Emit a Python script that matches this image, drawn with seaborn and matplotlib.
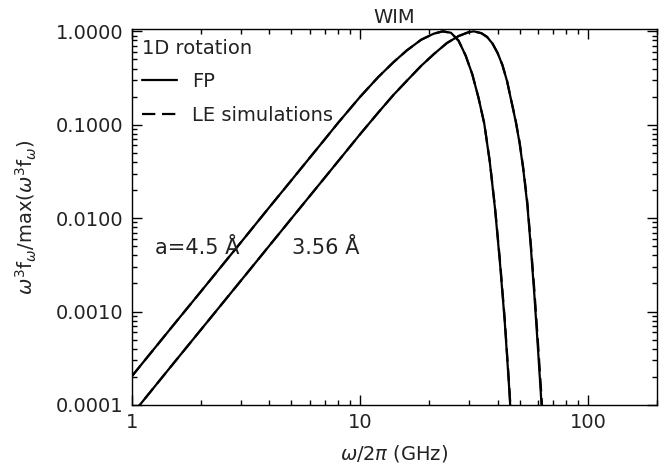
import numpy as np
import pandas as pd
import matplotlib
matplotlib.use("Agg")
import matplotlib.pyplot as plt
import seaborn as sns
from matplotlib.ticker import FixedLocator, FuncFormatter, LogLocator, NullFormatter

# frequency (GHz) and normalized emissivity, a = 4.5 A
freq_45 = [1.0, 1.5, 2.0, 3.0, 4.0, 5.0, 7.0, 8.0, 10.0, 12.0, 14.0, 16.0, 18.5,
           21.0, 23.0, 25.0, 27.0, 29.0, 31.0, 33.0, 35.0, 37.0, 39.0, 41.0,
           43.0, 45.0, 46.2]
fp_45 = [2.04e-4, 6.9e-4, 1.63e-3, 5.5e-3, 0.0131, 0.0255, 0.0700, 0.1047, 0.1995,
         0.324, 0.468, 0.624, 0.813, 0.944, 1.0, 0.966, 0.794, 0.550, 0.347,
         0.195, 0.102, 0.0398, 0.0126, 3.3e-3, 7.9e-4, 1.5e-4, 5.0e-5]
le_45 = [2.04e-4, 6.9e-4, 1.63e-3, 5.5e-3, 0.0131, 0.0255, 0.0700, 0.1047, 0.1995,
         0.324, 0.468, 0.624, 0.813, 0.944, 1.0, 0.966, 0.794, 0.550, 0.347,
         0.195, 0.103, 0.0405, 0.0130, 3.5e-3, 8.4e-4, 1.6e-4, 5.5e-5]

# a = 3.56 A
freq_356 = [1.0, 1.5, 2.0, 3.0, 4.0, 5.0, 7.0, 10.0, 12.0, 14.0, 16.0, 18.5,
            21.0, 24.0, 27.0, 30.0, 31.5, 34.0, 36.0, 38.0, 40.0, 42.0, 44.0,
            46.0, 48.0, 50.0, 52.0, 54.0, 56.0, 58.0, 60.0, 62.0, 64.0]
fp_356 = [7.9e-5, 2.68e-4, 6.35e-4, 2.14e-3, 5.08e-3, 9.93e-3, 0.0272, 0.0794,
          0.135, 0.209, 0.295, 0.427, 0.569, 0.750, 0.891, 0.984, 1.0, 0.955,
          0.871, 0.741, 0.589, 0.437, 0.295, 0.178, 0.110, 0.0631, 0.0316,
          0.0141, 4.8e-3, 1.51e-3, 4.4e-4, 1.26e-4, 3.5e-5]
le_356 = [7.9e-5, 2.68e-4, 6.35e-4, 2.14e-3, 5.08e-3, 9.93e-3, 0.0272, 0.0794,
          0.135, 0.209, 0.295, 0.427, 0.569, 0.750, 0.891, 0.984, 1.0, 0.955,
          0.871, 0.741, 0.589, 0.437, 0.297, 0.180, 0.112, 0.0645, 0.0328,
          0.0150, 5.2e-3, 1.70e-3, 5.1e-4, 1.5e-4, 4.2e-5]

y_ticks = [1e-4, 1e-3, 1e-2, 1e-1, 1.0]
x_ticks = [1, 10, 100]

sns.set_style("ticks")
plt.rcParams["font.family"] = ["DejaVu Sans"]
plt.rcParams["mathtext.fontset"] = "dejavusans"

fig = plt.figure(figsize=(6.59, 4.73), dpi=100)
ax = fig.add_axes([0.2003, 0.1438, 0.7967, 0.7949])

for fr, fp, le in [(freq_45, fp_45, le_45), (freq_356, fp_356, le_356)]:
    df = pd.DataFrame({"freq": fr, "fp": fp, "le": le})
    sns.lineplot(data=df, x="freq", y="fp", color="black", linewidth=1.6,
                 ax=ax, estimator=None, sort=False)
    sns.lineplot(data=df, x="freq", y="le", color="black", linewidth=1.6,
                 linestyle=(0, (6, 3)), ax=ax, estimator=None, sort=False)

ax.set_xscale("log")
ax.set_yscale("log")
ax.set_xlim(1, 200)
ax.set_ylim(1e-4, 1.06)

ax.xaxis.set_major_locator(FixedLocator(x_ticks))
ax.xaxis.set_major_formatter(FuncFormatter(lambda v, p: f"{v:g}"))
ax.xaxis.set_minor_locator(LogLocator(base=10, subs=np.arange(2, 10)))
ax.xaxis.set_minor_formatter(NullFormatter())
ax.yaxis.set_major_locator(FixedLocator(y_ticks))
ax.yaxis.set_major_formatter(FuncFormatter(lambda v, p: f"{v:.4f}"))
ax.yaxis.set_minor_locator(LogLocator(base=10, subs=np.arange(2, 10)))
ax.yaxis.set_minor_formatter(NullFormatter())

ax.tick_params(which="both", direction="in", top=True, right=True,
               labelsize=14, width=1, color="black", labelcolor="#222222")
ax.tick_params(which="major", length=7, pad=6)
ax.tick_params(which="minor", length=3.5)
for s in ax.spines.values():
    s.set_linewidth(1.0)
    s.set_color("black")

ax.set_xlabel(r"$\omega$/2$\pi$ (GHz)", fontsize=14, color="#222222", labelpad=8)
ax.set_ylabel(r"$\omega^3$f$_\omega$/max($\omega^3$f$_\omega$)", fontsize=14,
              color="#222222", labelpad=12)
ax.set_title("WIM", fontsize=14, color="#222222", pad=4)

# legend
ax.plot([], [], color="black", linewidth=1.6, label="FP")
ax.plot([], [], color="black", linewidth=1.6, linestyle=(0, (6, 3)),
        label="LE simulations")
handles, labels = ax.get_legend_handles_labels()
leg = ax.legend(handles[-2:], labels[-2:], title="1D rotation", loc="upper left",
                frameon=False, fontsize=14, title_fontsize=14, alignment="left",
                handlelength=1.8, handletextpad=0.8, labelspacing=0.75,
                borderaxespad=0.2, borderpad=0.3)
for t in leg.get_texts():
    t.set_color("#222222")
leg.get_title().set_color("#222222")

ax.text(1.26, 0.0048, "a=4.5 Å", fontsize=15, color="#222222", va="center")
ax.text(5.05, 0.0048, "3.56 Å", fontsize=15, color="#222222", va="center")

fig.savefig("out.png", dpi=100)
